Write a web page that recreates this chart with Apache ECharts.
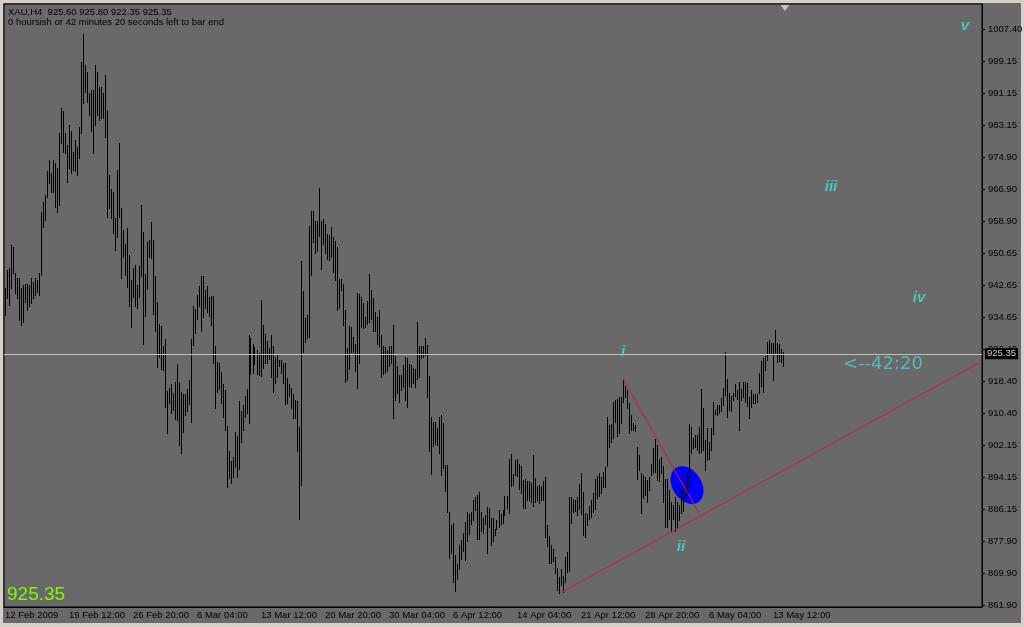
<!DOCTYPE html>
<html>
<head>
<meta charset="utf-8">
<script src="https://cdn.jsdelivr.net/npm/echarts@6/dist/echarts.min.js"></script>
<style>
  html, body { margin: 0; padding: 0; background: #d4d0c8; }
  #bg { position: absolute; left: 3px; top: 3px; right: 3px; bottom: 4px; background: #696969; }
  #chart { position: absolute; left: 0; top: 0; width: 1024px; height: 627px; }
</style>
</head>
<body>
<div id="bg"></div>
<div id="chart"></div>
<script>
// XAU H4 bars, 12 Feb 2009 .. 13 May 2009 (high / low)
const highs = [
  941.9, 946.5, 946.9, 952.8, 952.2, 945.7, 944.4, 944.4, 941.9, 942.7,
  943.1, 943.1, 942.7, 944.4, 943.6, 944.4, 944.0, 945.7, 961.2, 963.8,
  965.5, 971.4, 974.3, 970.9, 974.3, 973.5, 972.2, 981.0, 987.4, 986.7,
  981.0, 978.1, 983.1, 981.5, 976.4, 979.4, 977.7, 982.7, 999.1, 1006.0,
  998.3, 996.6, 991.1, 992.0, 992.0, 998.3, 996.6, 992.8, 992.8, 991.1,
  995.8, 986.9, 970.5, 967.1, 966.3, 959.6, 971.8, 978.5, 962.3, 956.6,
  953.2, 957.0, 950.3, 944.0, 946.9,
  947.8, 942.7, 947.5, 963.0, 956.0, 945.5, 953.6, 954.1, 958.7, 954.1,
  945.0, 938.5, 932.9, 932.4, 927.2, 929.1, 916.0, 916.6, 917.7, 915.5,
  918.3, 922.8, 918.3, 915.8, 915.2, 915.2, 916.4, 918.8, 929.1, 937.3,
  936.6, 940.2, 942.5, 944.9, 945.1, 941.5, 942.5, 939.6, 940.0, 940.0,
  927.3, 923.4, 923.0, 920.8, 917.7, 916.2, 907.0, 900.9, 898.4, 899.4,
  905.7, 904.5, 913.5, 911.0, 912.3, 914.7, 916.4, 930.1, 929.3, 927.9,
  927.0, 926.2, 925.5, 939.0, 932.7,
  930.4, 928.6, 926.8, 930.1, 927.4, 924.6, 925.1, 923.8, 923.8, 923.1,
  923.1, 919.2, 917.7, 916.6, 915.2, 913.7, 913.5, 906.8, 948.9, 941.3,
  934.4, 935.2, 957.6, 961.4, 961.4, 959.0, 959.0, 967.2, 959.0, 959.3,
  958.1, 955.6, 955.4, 957.3, 954.8, 953.9, 952.4, 944.3, 944.3, 943.0,
  936.4, 926.8, 932.4, 932.0, 929.7, 927.8, 940.6, 940.5, 939.8, 938.1,
  934.7, 938.8, 945.5, 941.5, 939.4, 936.0, 934.6, 936.4, 930.1, 927.2,
  927.0, 926.2, 927.2, 927.3, 932.5,
  924.8, 922.3, 920.0, 920.0, 922.5, 924.6, 924.2, 922.8, 922.5, 921.7,
  921.4, 933.4, 927.2, 927.3, 927.3, 929.3, 927.6, 919.7, 909.5, 908.2,
  908.0, 906.7, 909.5, 909.9, 907.8, 897.2, 897.2, 885.4, 882.1, 882.7,
  874.5, 872.3, 877.0, 878.3, 880.0, 882.9, 885.4, 884.9, 885.4, 888.4,
  889.2, 889.6, 890.4, 885.4, 884.0, 884.6, 886.7, 886.3, 884.0, 883.8,
  881.2, 883.3, 885.9, 885.0, 885.9, 889.4, 889.4, 898.7, 900.0, 895.0,
  898.5, 898.7, 897.6, 897.0, 893.4,
  893.7, 893.1, 893.1, 892.8, 899.8, 893.9, 892.0, 892.2, 892.0, 893.1,
  894.2, 882.1, 879.3, 877.1, 876.0, 874.1, 871.2, 869.1, 870.9, 869.2,
  874.1, 875.4, 889.1, 889.1, 888.6, 888.4, 889.3, 892.5, 895.3, 890.5,
  885.1, 885.0, 886.8, 888.4, 890.3, 893.7, 894.5, 895.3, 894.3, 895.6,
  896.7, 909.5, 907.4, 907.5, 913.3, 913.7, 913.9, 914.4, 914.4, 919.0,
  917.1, 916.2, 912.9, 909.9, 907.8, 907.4, 901.7, 899.8, 895.2, 894.8,
  894.3, 893.5, 894.3, 897.5, 901.5,
  903.8, 902.3, 898.7, 899.2, 896.9, 893.7, 893.7, 891.0, 887.8, 887.2,
  889.3, 887.8, 887.2, 891.8, 890.3, 892.6, 895.2, 907.6, 906.8, 904.0,
  904.9, 904.9, 906.8, 916.4, 911.6, 903.6, 906.5, 903.2, 906.5, 913.3,
  911.2, 912.4, 912.4, 914.1, 916.6, 925.9, 918.9, 915.4, 914.7, 915.5,
  917.7, 916.2, 918.3, 916.4, 918.3, 918.3, 917.9, 914.5, 916.2, 915.2,
  915.2, 915.2, 920.6, 923.6, 924.2, 924.8, 928.4, 928.8, 928.0, 928.2,
  931.4, 928.2, 927.8, 926.5, 925.8
];
const lows = [
  935.1, 939.4, 937.7, 941.9, 945.7, 940.6, 939.4, 933.9, 932.6, 933.5,
  938.5, 936.4, 937.3, 938.1, 939.4, 940.2, 941.0, 940.2, 945.2, 957.5,
  959.1, 965.0, 968.4, 966.3, 966.3, 962.5, 961.2, 962.9, 978.5, 976.4,
  976.0, 968.8, 972.2, 970.9, 971.8, 971.4, 970.5, 974.7, 981.0, 988.6,
  991.6, 989.0, 985.7, 981.5, 976.0, 983.1, 985.7, 984.4, 984.8, 984.8,
  980.2, 960.0, 962.1, 959.6, 955.8, 951.6, 954.9, 960.0, 944.4, 949.9,
  945.2, 942.3, 937.3, 932.2, 939.8,
  937.3, 936.9, 939.6, 944.9, 927.8, 934.9, 941.6, 949.9, 949.5, 935.3,
  931.0, 922.1, 924.6, 921.5, 921.3, 912.0, 905.4, 913.0, 910.3, 911.2,
  908.8, 908.6, 902.3, 900.2, 905.7, 909.9, 911.0, 912.7, 908.2, 927.6,
  930.7, 934.1, 937.3, 931.0, 934.7, 936.8, 935.8, 934.9, 932.6, 923.1,
  911.6, 915.8, 916.4, 913.0, 909.5, 906.0, 891.6, 894.1, 892.7, 894.2,
  896.7, 894.3, 896.2, 903.0, 906.0, 909.3, 910.5, 907.8, 920.2, 920.6,
  922.7, 920.3, 919.9, 919.8, 921.7,
  923.1, 923.1, 924.0, 919.6, 915.8, 918.1, 919.6, 922.3, 920.6, 918.1,
  912.7, 913.0, 914.7, 911.6, 909.1, 909.1, 900.9, 883.6, 892.2, 925.9,
  928.4, 929.4, 929.7, 945.3, 953.7, 950.7, 951.4, 955.1, 946.7, 953.0,
  950.9, 949.2, 949.1, 949.7, 945.9, 944.0, 936.4, 937.0, 941.5, 932.6,
  918.3, 918.8, 921.4, 925.7, 925.9, 921.1, 916.6, 923.1, 932.2, 931.8,
  932.2, 933.0, 933.4, 934.2, 931.2, 931.0, 927.8, 927.4, 919.4, 920.2,
  920.6, 921.1, 922.3, 923.0, 909.1,
  913.8, 915.5, 913.2, 916.3, 917.0, 913.8, 911.8, 917.2, 916.9, 917.9,
  916.9, 919.1, 919.4, 924.2, 924.5, 925.0, 914.5, 900.9, 895.1, 902.0,
  902.5, 902.3, 900.2, 894.7, 896.4, 890.8, 885.4, 873.9, 875.1, 867.8,
  865.5, 868.4, 870.9, 873.4, 875.6, 873.2, 878.0, 879.8, 882.3, 883.3,
  885.9, 878.6, 878.7, 880.6, 880.0, 882.3, 875.1, 881.7, 877.0, 878.1,
  879.6, 881.0, 881.5, 882.3, 882.7, 884.6, 886.3, 885.2, 891.9, 892.2,
  894.7, 894.5, 891.3, 890.1, 886.3,
  886.3, 888.4, 888.3, 888.0, 886.8, 888.0, 888.3, 887.6, 888.4, 888.4,
  879.2, 876.8, 872.4, 872.4, 872.9, 870.1, 865.7, 865.0, 867.0, 865.3,
  867.6, 870.3, 870.6, 882.5, 885.5, 885.7, 884.6, 886.1, 884.9, 879.6,
  879.0, 882.0, 883.6, 884.2, 885.5, 886.1, 888.9, 889.4, 890.3, 891.8,
  891.8, 896.9, 901.9, 903.2, 904.0, 908.2, 904.6, 905.4, 907.8, 913.3,
  914.5, 911.6, 905.4, 906.1, 906.1, 905.9, 893.7, 896.0, 885.1, 888.9,
  889.7, 887.9, 891.0, 894.8, 895.2,
  895.6, 893.5, 893.1, 895.2, 888.0, 881.5, 881.5, 883.5, 880.7, 883.5,
  880.7, 881.3, 883.4, 885.2, 885.7, 889.3, 889.7, 891.8, 900.2, 901.5,
  901.9, 901.1, 900.4, 900.6, 901.1, 896.0, 898.5, 898.7, 901.1, 905.1,
  910.2, 909.9, 910.3, 911.0, 912.4, 915.0, 909.5, 911.2, 911.0, 913.7,
  914.7, 913.9, 906.1, 913.7, 914.4, 913.3, 912.2, 909.1, 912.0, 913.0,
  912.8, 913.3, 915.5, 917.1, 915.8, 921.3, 923.8, 925.5, 925.5, 918.7,
  925.5, 923.4, 923.6, 923.4, 922.35
];

// last bar quote: open, high, low, close
const lastQuote = [925.60, 925.80, 922.35, 925.35];
const timeLeft = [0, 42, 20]; // hours, minutes, seconds

const xTickLabels = ['12 Feb 2009', '19 Feb 12:00', '26 Feb 20:00', '6 Mar 04:00', '13 Mar 12:00',
  '20 Mar 20:00', '30 Mar 04:00', '6 Apr 12:00', '14 Apr 04:00', '21 Apr 12:00',
  '28 Apr 20:00', '6 May 04:00', '13 May 12:00'];
const yTickLabels = ['861.90', '869.90', '877.90', '886.15', '894.15', '902.15', '910.40',
  '918.40', '926.40', '934.65', '942.65', '950.65', '958.90', '966.90', '974.90',
  '983.15', '991.15', '999.15', '1007.40'];

// trend lines: [bar index, price] pairs
const supportLine = [[279, 865.3], [487, 923.1]];
const waveTwoLine = [[309, 919.0], [347, 885.1]];
// elliott wave marks: [text, bar index, price]
const waveLabels = [['i', 309, 925.8], ['ii', 338, 876.55], ['iii', 413, 967.5],
  ['iv', 457, 939.4], ['v', 480, 1008.2]];
const ellipseAt = [340.5, 892.2];
const countdownAt = [419, 922.8];

const slotCount = 489;   // bars + empty space on the right (chart shift)
const labelStep = 32;    // bars between time labels
const slots = [];
for (let i = 0; i < slotCount; i++) slots.push(i);

const font = 'Liberation Sans';
const fontSize = 9.5;
const close = lastQuote[3];
const pad2 = n => (n < 10 ? '0' : '') + n;

const chart = echarts.init(document.getElementById('chart'));

const option = {
  animation: false,
  backgroundColor: 'transparent',
  title: {
    text: 'XAU,H4  ' + lastQuote.map(v => v.toFixed(2)).join(' ') + '\n' +
      timeLeft[0] + ' hoursish or ' + timeLeft[1] + ' minutes ' + timeLeft[2] + ' seconds left to bar end',
    left: 8,
    top: 7,
    padding: 0,
    textStyle: { fontFamily: font, fontSize: 9.5, fontWeight: 'normal', color: '#000', lineHeight: 10.5 }
  },
  graphic: [{
    type: 'text',
    left: 7,
    top: 585,
    style: { text: close.toFixed(2), fill: '#7cfc00', font: '19px "Liberation Sans"' }
  }],
  grid: {
    left: 4, right: 42, top: 4, bottom: 20,
    outerBoundsMode: 'none',
    containLabel: false,
    show: true, borderColor: '#000', borderWidth: 1, backgroundColor: 'transparent'
  },
  xAxis: {
    type: 'category',
    data: slots,
    boundaryGap: true,
    axisLine: { lineStyle: { color: '#000' } },
    axisTick: { interval: labelStep - 1, alignWithLabel: true, length: 4, lineStyle: { color: '#000' } },
    axisLabel: {
      interval: labelStep - 1,
      align: 'left',
      margin: 3,
      color: '#000',
      fontFamily: font,
      fontSize: fontSize,
      formatter: (v, idx) => xTickLabels[idx / labelStep] || ''
    },
    splitLine: { show: false }
  },
  yAxis: {
    type: 'value',
    position: 'right',
    min: 861.4,
    max: 1013.7,
    axisLine: { show: true, lineStyle: { color: '#000' } },
    axisTick: { show: true, length: 3, customValues: yTickLabels.map(Number), lineStyle: { color: '#000' } },
    axisLabel: {
      customValues: yTickLabels.map(Number),
      formatter: v => yTickLabels[yTickLabels.map(Number).indexOf(v)] || v.toFixed(2),
      margin: 6,
      color: '#000',
      fontFamily: font,
      fontSize: fontSize
    },
    splitLine: { show: false }
  },
  series: [
    {
      name: 'ellipse',
      type: 'custom',
      z: 1,
      data: [ellipseAt],
      renderItem: (params, api) => {
        const c = api.coord([api.value(0), api.value(1)]);
        return {
          type: 'circle',
          x: c[0], y: c[1],
          scaleX: 20.5, scaleY: 14.5,
          rotation: -57 * Math.PI / 180,
          shape: { cx: 0, cy: 0, r: 1 },
          style: { fill: '#0000ff' }
        };
      }
    },
    {
      name: 'bid',
      type: 'line',
      z: 2,
      data: [[highs.length - 1, close]],
      showSymbol: false,
      symbol: 'none',
      lineStyle: { width: 0 },
      markLine: {
        silent: true,
        symbol: 'none',
        data: [{ yAxis: close }],
        lineStyle: { color: '#c0c0c0', type: 'solid', width: 1 },
        label: {
          position: 'end',
          distance: 3,
          formatter: close.toFixed(2),
          backgroundColor: '#000',
          color: '#d0d0d0',
          padding: [1, 2, 0, 2],
          fontFamily: font,
          fontSize: fontSize
        }
      }
    },
    {
      name: 'XAU',
      type: 'custom',
      z: 3,
      data: highs.map((h, i) => [i, h, lows[i]]),
      encode: { x: 0, y: [1, 2] },
      renderItem: (params, api) => {
        const top = api.coord([api.value(0), api.value(1)]);
        const bot = api.coord([api.value(0), api.value(2)]);
        const x = Math.floor(top[0]) + 0.5;
        return {
          type: 'line',
          shape: { x1: x, y1: Math.round(top[1]), x2: x, y2: Math.round(bot[1]) + 1 },
          style: { stroke: '#000', lineWidth: 1 }
        };
      }
    },
    {
      name: 'support',
      type: 'line',
      z: 4,
      data: supportLine,
      symbol: 'none',
      lineStyle: { color: '#dc143c', width: 1 }
    },
    {
      name: 'wave2',
      type: 'line',
      z: 4,
      data: waveTwoLine,
      symbol: 'none',
      lineStyle: { color: '#dc143c', width: 1 }
    },
    {
      name: 'waves',
      type: 'scatter',
      z: 5,
      symbolSize: 0,
      data: waveLabels.map(w => ({ name: w[0], value: [w[1], w[2]] })),
      label: {
        show: true,
        position: 'inside',
        formatter: '{b}',
        color: '#40e0d0',
        fontFamily: 'Liberation Sans',
        fontSize: 15,
        fontStyle: 'italic',
        fontWeight: 'bold'
      }
    },
    {
      name: 'countdown',
      type: 'scatter',
      z: 5,
      symbolSize: 0,
      data: [{ name: '<--' + timeLeft[1] + ':' + pad2(timeLeft[2]), value: countdownAt }],
      label: {
        show: true,
        position: 'inside',
        align: 'left',
        verticalAlign: 'middle',
        formatter: '{b}',
        color: '#50cccc',
        fontFamily: 'DejaVu Sans',
        fontSize: 18
      }
    },
    {
      name: 'shift',
      type: 'scatter',
      z: 5,
      symbol: 'triangle',
      symbolRotate: 180,
      symbolSize: [9, 6],
      symbolOffset: [0, 4],
      itemStyle: { color: '#d8d8d8' },
      data: [[highs.length, 1013.7]]
    }
  ]
};

chart.setOption(option);
</script>
</body>
</html>
